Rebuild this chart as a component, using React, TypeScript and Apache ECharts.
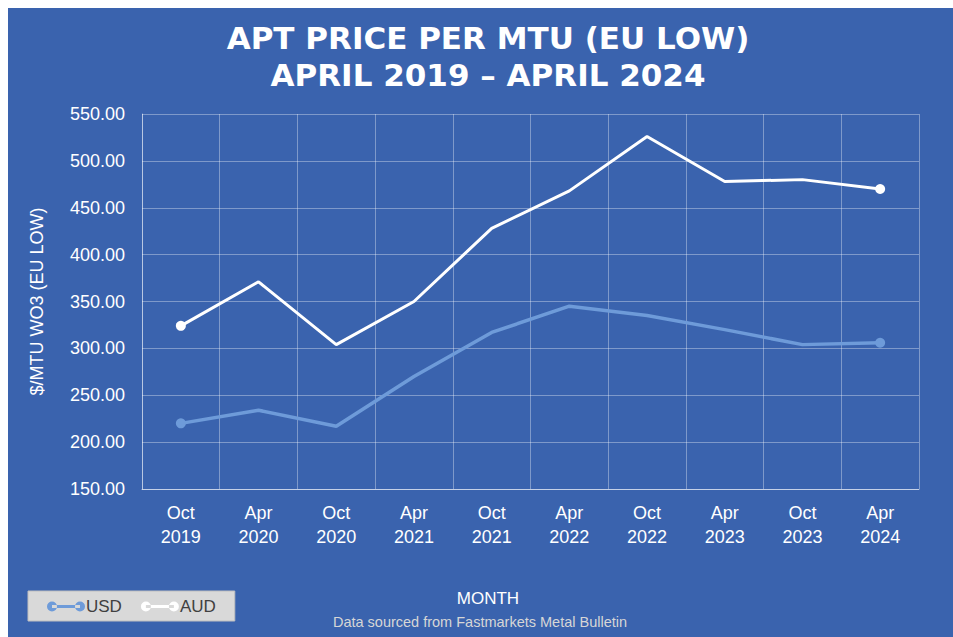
import React, { useEffect, useRef } from "react";
import * as echarts from "echarts";

const categories = [
  "Oct\n2019", "Apr\n2020", "Oct\n2020", "Apr\n2021", "Oct\n2021",
  "Apr\n2022", "Oct\n2022", "Apr\n2023", "Oct\n2023", "Apr\n2024",
];
const usdValues = [220, 234, 217, 270, 317, 345, 335, 320, 304, 306];
const audValues = [324, 371, 304, 350, 428, 468, 526, 478, 480, 470];
const yMin = 150;
const yMax = 550;
const yInterval = 50;
const titleLines = ["APT PRICE PER MTU (EU LOW)", "APRIL 2019 – APRIL 2024"];
const yAxisTitle = "$/MTU WO3 (EU LOW)";
const xAxisTitle = "MONTH";
const footnote = "Data sourced from Fastmarkets Metal Bulletin";

const BG = "#3A63AE";
const USD_COLOR = "#6E9BD9";
const AUD_COLOR = "#FFFFFF";
const LEGEND_ICON =
  "path://M0,5a5,5 0 1,0 10,0a5,5 0 1,0 -10,0Z M5,3.6L33,3.6L33,6.4L5,6.4Z M28,5a5,5 0 1,0 10,0a5,5 0 1,0 -10,0Z";

function endMarkers(values: number[]) {
  return values.map((v, i) =>
    i === 0 || i === values.length - 1
      ? { value: v, symbol: "circle", symbolSize: 10 }
      : { value: v, symbol: "none" }
  );
}

export default function App() {
  const ref = useRef<HTMLDivElement>(null);
  useEffect(() => {
    if (!ref.current) return;
    const chart = echarts.init(ref.current, null, { renderer: "svg" });
    const labelFont = "'Liberation Sans', Arial, sans-serif";
    chart.setOption({
      animation: false,
      backgroundColor: BG,
      grid: { left: 134, top: 106, right: 34, bottom: 148, containLabel: false },
      legend: {
        left: 20,
        top: 583,
        orient: "horizontal",
        backgroundColor: "#D9D9D9",
        borderColor: "#BFBFBF",
        borderWidth: 1,
        borderRadius: 0,
        padding: [7, 19, 6, 19],
        itemGap: 19,
        itemWidth: 38,
        itemHeight: 11,
        textStyle: { color: "#404040", fontSize: 17, fontFamily: labelFont, padding: [0, 0, 0, -4] },
        data: [
          { name: "USD", icon: LEGEND_ICON },
          { name: "AUD", icon: LEGEND_ICON },
        ],
      },
      xAxis: {
        type: "category",
        data: categories,
        boundaryGap: true,
        axisLine: { show: true, lineStyle: { color: "rgba(255,255,255,0.55)", width: 1 } },
        axisTick: { show: false },
        axisLabel: {
          color: "#FFFFFF",
          fontSize: 18,
          fontFamily: labelFont,
          lineHeight: 24,
          margin: 12,
          interval: 0,
        },
        splitLine: { show: true, lineStyle: { color: "rgba(255,255,255,0.35)", width: 1 } },
      },
      yAxis: {
        type: "value",
        min: yMin,
        max: yMax,
        interval: yInterval,
        name: yAxisTitle,
        nameLocation: "middle",
        nameGap: 96,
        nameRotate: 90,
        nameTextStyle: { color: "#FFFFFF", fontSize: 18, fontFamily: labelFont },
        axisLine: { show: true, lineStyle: { color: "rgba(255,255,255,0.45)", width: 1 } },
        axisTick: { show: false },
        axisLabel: {
          color: "#FFFFFF",
          fontSize: 18,
          fontFamily: labelFont,
          margin: 17,
          formatter: (v: number) => v.toFixed(2),
        },
        splitLine: { show: true, lineStyle: { color: "rgba(255,255,255,0.35)", width: 1 } },
      },
      series: [
        {
          name: "USD",
          type: "line",
          data: endMarkers(usdValues),
          showSymbol: true,
          itemStyle: { color: USD_COLOR },
          lineStyle: { color: USD_COLOR, width: 3.5 },
          z: 3,
        },
        {
          name: "AUD",
          type: "line",
          data: endMarkers(audValues),
          showSymbol: true,
          itemStyle: { color: AUD_COLOR },
          lineStyle: { color: AUD_COLOR, width: 3 },
          z: 4,
        },
      ],
      graphic: [
        {
          type: "text",
          style: {
            text: titleLines[0],
            x: 480,
            y: 30,
            fill: "#FFFFFF",
            font: "bold 31px 'DejaVu Sans', sans-serif",
            textAlign: "center",
            textVerticalAlign: "middle",
          },
        },
        {
          type: "text",
          style: {
            text: titleLines[1],
            x: 480,
            y: 67,
            fill: "#FFFFFF",
            font: "bold 31px 'DejaVu Sans', sans-serif",
            textAlign: "center",
            textVerticalAlign: "middle",
          },
        },
        {
          type: "text",
          style: {
            text: xAxisTitle,
            x: 480,
            y: 590,
            fill: "#FFFFFF",
            font: "17px 'Liberation Sans', Arial, sans-serif",
            textAlign: "center",
            textVerticalAlign: "middle",
          },
        },
        {
          type: "text",
          style: {
            text: footnote,
            x: 472,
            y: 614,
            fill: "#D6D6D6",
            font: "14.5px 'Liberation Sans', Arial, sans-serif",
            textAlign: "center",
            textVerticalAlign: "middle",
          },
        },
      ],
    });
    return () => chart.dispose();
  }, []);
  return (
    <div
      ref={ref}
      style={{ position: "fixed", left: 8, top: 8, width: 945, height: 629 }}
    />
  );
}
